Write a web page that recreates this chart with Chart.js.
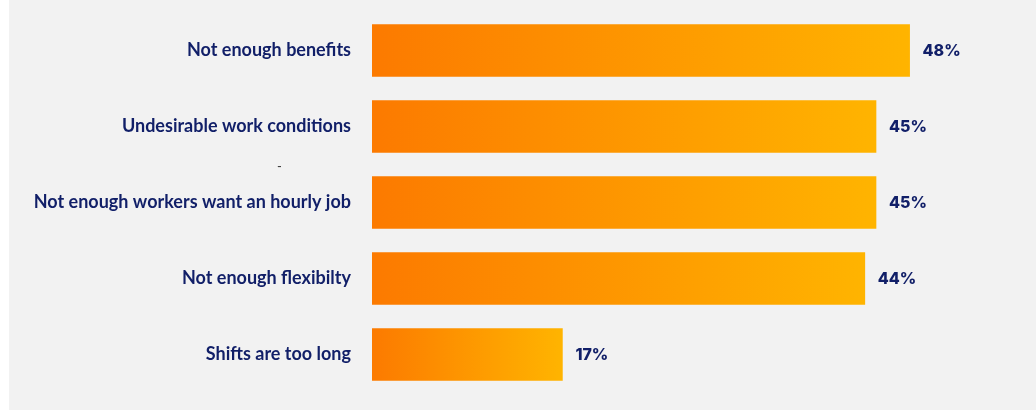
<!DOCTYPE html>
<html>
<head>
<meta charset="utf-8">
<script src="https://cdn.jsdelivr.net/npm/chart.js@4.4.1/dist/chart.umd.min.js"></script>
<style>
  html, body { margin: 0; padding: 0; background: #ffffff; }
  #wrap { position: absolute; left: 9px; top: 0; width: 1027px; height: 410px; background: #f2f2f2; }
  canvas { display: block; }
</style>
</head>
<body>
<div id="wrap"><canvas id="reasonsChart" width="1027" height="410"></canvas></div>
<script>
const categories = [
  'Not enough benefits',
  'Undesirable work conditions',
  'Not enough workers want an hourly job',
  'Not enough flexibilty',
  'Shifts are too long'
];
const shares = [48, 45, 45, 44, 17];
const valueLabels = ['48%', '45%', '45%', '44%', '17%'];

const navy = '#111f68';

// Each bar gets its own left-to-right orange gradient
function barGradient(context) {
  const chart = context.chart;
  if (!chart.chartArea || context.parsed === undefined) return '#ff9000';
  const xScale = chart.scales.x;
  const x0 = xScale.getPixelForValue(0);
  const x1 = xScale.getPixelForValue(context.parsed.x);
  const g = chart.ctx.createLinearGradient(x0, 0, x1, 0);
  g.addColorStop(0, '#fc7a00');
  g.addColorStop(1, '#ffb400');
  return g;
}

// Percent labels to the right of each bar, plus the stray dash between rows
const valueLabelPlugin = {
  id: 'valueLabels',
  afterDatasetsDraw(chart) {
    const ctx = chart.ctx;
    const meta = chart.getDatasetMeta(0);
    ctx.save();
    ctx.fillStyle = navy;
    ctx.font = '800 16px Inter, "Open Sans", sans-serif';
    ctx.textAlign = 'left';
    ctx.textBaseline = 'middle';
    meta.data.forEach((bar, i) => {
      ctx.fillText(valueLabels[i], bar.x + 13, bar.y + 1);
    });
    ctx.fillStyle = '#333333';
    ctx.font = '13px Lato, sans-serif';
    ctx.fillText('-', 268, 167);
    ctx.restore();
  }
};

new Chart(document.getElementById('reasonsChart'), {
  type: 'bar',
  data: {
    labels: categories,
    datasets: [{
      data: shares,
      backgroundColor: barGradient,
      borderWidth: 0,
      barThickness: 52
    }]
  },
  options: {
    indexAxis: 'y',
    responsive: false,
    animation: false,
    layout: { padding: { top: 12.5, bottom: 17.5, left: 0, right: 48 } },
    plugins: {
      legend: { display: false },
      tooltip: { enabled: false }
    },
    scales: {
      x: {
        display: false,
        min: 0,
        max: 55
      },
      y: {
        afterFit(scale) {
          scale.width = 363;
          // keep the tick padding from eating into the plot height
          scale.paddingTop = 0;
          scale.paddingBottom = 0;
        },
        grid: { display: false, drawTicks: false },
        border: { display: false },
        ticks: {
          color: navy,
          padding: 21,
          font: { family: 'Lato, "Open Sans", sans-serif', size: 18, weight: 'bold' }
        }
      }
    }
  },
  plugins: [valueLabelPlugin]
});
</script>
</body>
</html>
